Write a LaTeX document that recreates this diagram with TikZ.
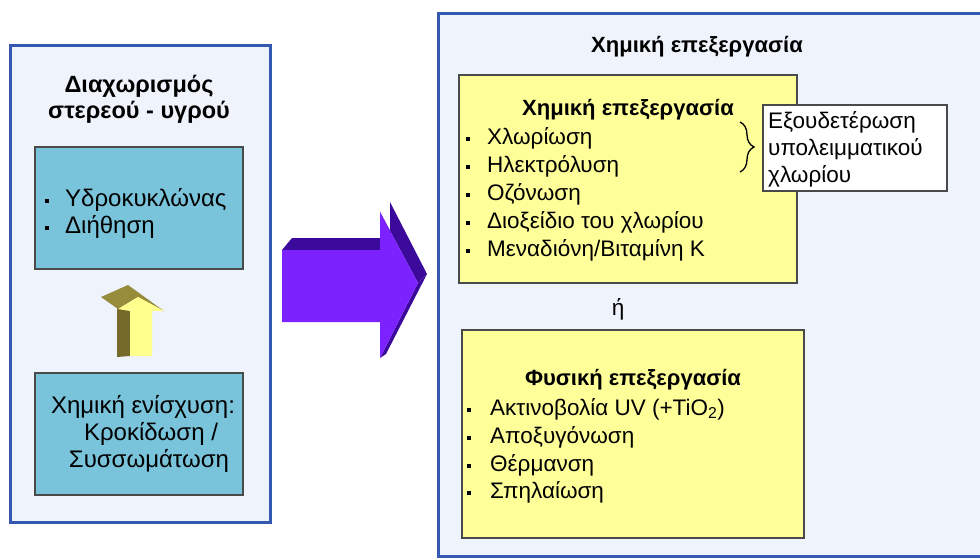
\documentclass[tikz,border=0pt]{standalone}
\usepackage{fontspec}
\setmainfont{Liberation Sans}
\usetikzlibrary{decorations.pathreplacing}
\definecolor{outerfill}{HTML}{EEF3FC}
\definecolor{outerline}{HTML}{3558B0}
\definecolor{cyanfill}{HTML}{79C4DA}
\definecolor{boxline}{HTML}{4A4A4A}
\definecolor{yelfill}{HTML}{FFFF99}
\definecolor{violetF}{HTML}{7B22FF}
\definecolor{violetD}{HTML}{3C0A9A}
\definecolor{oliveD}{HTML}{978B3C}
\definecolor{oliveS}{HTML}{756A2A}
\definecolor{yelarrow}{HTML}{FFFF8E}
\tikzset{
  outerbox/.style={fill=outerfill, draw=outerline, line width=3pt},
  cyanbox/.style={fill=cyanfill, draw=boxline, line width=1.5pt},
  yelbox/.style={fill=yelfill, draw=boxline, line width=1.5pt},
  notebox/.style={fill=white, draw=boxline, line width=1.2pt},
  txt/.style={font=\fontsize{22.5}{26}\selectfont, inner sep=0pt, anchor=base west},
  ltxt/.style={font=\fontsize{24}{28}\selectfont, inner sep=0pt, anchor=base west},
  lctxt/.style={font=\fontsize{24}{28}\selectfont, inner sep=0pt, anchor=base},
  ctxt/.style={font=\fontsize{22.5}{26}\selectfont, inner sep=0pt, anchor=base},
  btxt/.style={font=\fontsize{22}{26}\selectfont\bfseries, inner sep=0pt, anchor=base},
  lbtxt/.style={font=\fontsize{23.5}{28}\selectfont\bfseries, inner sep=0pt, anchor=base},
}
\newcommand\bitem[6][txt]{%
  \fill (#3-1.6,#5-6.6) rectangle (#3+1.6,#5-3.4);
  \node[#1] (#2) at (#4,#5) {#6};}
\begin{document}
\begin{tikzpicture}[x=1pt,y=-1pt]
\useasboundingbox (0,0) rectangle (980,558);
\clip (0,0) rectangle (980,558);
\fill[white] (0,0) rectangle (980,558);

% ---------- left panel ----------
\draw[outerbox] (10,45) rectangle (270,522);
\node[lbtxt] (lt1) at (139,92) {Διαχωρισμός};
\node[lbtxt] (lt2) at (139,118) {στερεού - υγρού};

\draw[cyanbox] (35,147) rectangle (243,269);
\bitem[ltxt]{l1}{47}{65}{206}{Υδροκυκλώνας}
\bitem[ltxt]{l2}{47}{65}{233}{Διήθηση}

\draw[cyanbox] (35,373) rectangle (243,495);
\node[lctxt] (b1) at (143,413) {Χημική ενίσχυση:};
\node[lctxt] (b2) at (151,440) {Κροκίδωση /};
\node[lctxt] (b3) at (149,467) {Συσσωμάτωση};

% yellow 3D up arrow
\fill[oliveS] (117,305) -- (130,311) -- (130,356) -- (117,357) -- cycle;
\fill[oliveD] (101,297) -- (128,285) -- (164,311) -- (138,297) -- (118,309) -- cycle;
\fill[yelarrow] (130,356) -- (152,356) -- (152,311) -- (164,311) -- (138,297)
   -- (118,309) -- (130,311) -- cycle;

% ---------- violet 3D arrow ----------
\fill[violetD] (292,238) -- (390,238) -- (390,202) -- (427,274) -- (418,283)
   -- (380,212) -- (380,250) -- (282,250) -- cycle;
\fill[violetD] (427,274) -- (386,354) -- (380,358) -- (418,283) -- cycle;
\fill[violetF] (282,250) -- (380,250) -- (380,212) -- (418,283) -- (380,358)
   -- (380,322) -- (282,322) -- cycle;

% ---------- right panel ----------
\draw[outerbox] (438,13) rectangle (1000,556);
\node[btxt] (rt) at (697,52) {Χημική επεξεργασία};

\draw[yelbox] (459,75) rectangle (797,283);
\node[btxt] (y1t) at (628,115) {Χημική επεξεργασία};
\bitem{c1}{468}{487}{144}{Χλωρίωση}
\bitem{c2}{468}{487}{172}{Ηλεκτρόλυση}
\bitem{c3}{468}{487}{200}{Οζόνωση}
\bitem{c4}{468}{487}{228}{Διοξείδιο του χλωρίου}
\bitem{c5}{468}{487}{256}{Μεναδιόνη/Βιταμίνη Κ}

\draw[decorate, decoration={brace, amplitude=14pt}, line width=1.3pt]
   (740,122) -- (740,172);

\draw[notebox] (763,105) rectangle (947,191);
\node[txt] (n1) at (768,128) {Εξουδετέρωση};
\node[txt] (n2) at (768,155) {υπολειμματικού};
\node[txt] (n3) at (768,182) {χλωρίου};

\node[ctxt] (or) at (618,315) {ή};

\draw[yelbox] (462,330) rectangle (804,538);
\node[btxt] (y2t) at (633,385) {Φυσική επεξεργασία};
\bitem{p1}{469}{490}{415}{Ακτινοβολία UV (+TiO\textsubscript{2})}
\bitem{p2}{469}{490}{443}{Αποξυγόνωση}
\bitem{p3}{469}{490}{471}{Θέρμανση}
\bitem{p4}{469}{490}{498}{Σπηλαίωση}
\end{tikzpicture}
\end{document}
